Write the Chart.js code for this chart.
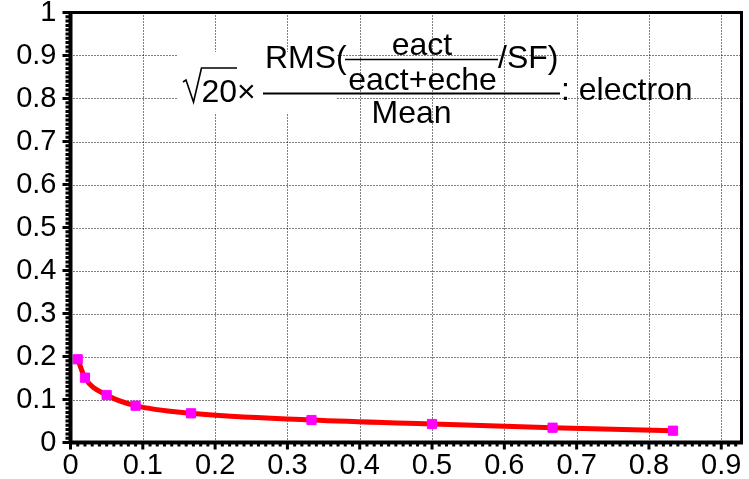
<!DOCTYPE html>
<html lang="en">
<head>
  <meta charset="UTF-8">
  <title>RMS / Mean : electron</title>
  <script src="https://cdn.jsdelivr.net/npm/chart.js"></script>
  <style>
    body { margin: 0; background: #fff; }
    canvas { display: block; }
  </style>
</head>
<body>
  <canvas id="resChart" width="749" height="479"></canvas>

  <script>
    // points
    const xValues = [0.01, 0.02, 0.05, 0.09, 0.1667, 0.3333, 0.5, 0.6667, 0.8333];
    const yValues = [0.1935, 0.1507, 0.1105, 0.0856, 0.0679, 0.0523, 0.043, 0.0344, 0.0274];

    // tick values and their labels
    const xTicks = [0, 0.1, 0.2, 0.3, 0.4, 0.5, 0.6, 0.7, 0.8, 0.9];
    const xTickLabels = ['0', '0.1', '0.2', '0.3', '0.4', '0.5', '0.6', '0.7', '0.8', '0.9'];
    const yTicks = [0, 0.1, 0.2, 0.3, 0.4, 0.5, 0.6, 0.7, 0.8, 0.9, 1];
    const yTickLabels = ['0', '0.1', '0.2', '0.3', '0.4', '0.5', '0.6', '0.7', '0.8', '0.9', '1'];

    const FONT = "'Liberation Sans', Arial, Helvetica, sans-serif";

    // dotted grid at the major ticks
    const gridPlugin = {
      id: 'dottedGrid',
      beforeDatasetsDraw(chart) {
        const ctx = chart.ctx;
        const a = chart.chartArea;
        const xs = chart.scales.x, ys = chart.scales.y;
        ctx.save();
        ctx.strokeStyle = '#000';
        ctx.lineWidth = 1;
        ctx.setLineDash([1, 2]);
        ctx.beginPath();
        xTicks.forEach(v => {
          if (v <= xs.min || v >= xs.max) return;
          const px = Math.round(xs.getPixelForValue(v)) + 0.5;
          ctx.moveTo(px, a.top); ctx.lineTo(px, a.bottom);
        });
        yTicks.forEach(v => {
          if (v <= ys.min || v >= ys.max) return;
          const py = Math.round(ys.getPixelForValue(v)) + 0.5;
          ctx.moveTo(a.left, py); ctx.lineTo(a.right, py);
        });
        ctx.stroke();
        ctx.restore();

        // white box behind the left part of the formula
        ctx.save();
        ctx.fillStyle = '#fff';
        ctx.fillRect(177, 52, 160, 62);
        ctx.restore();
      }
    };

    // frame, outward ticks (major + minor) and the formula label
    const framePlugin = {
      id: 'frame',
      afterDraw(chart) {
        const ctx = chart.ctx;
        const a = chart.chartArea;
        const xs = chart.scales.x, ys = chart.scales.y;
        ctx.save();

        // frame
        ctx.strokeStyle = '#000';
        ctx.lineWidth = 3;
        ctx.beginPath();
        ctx.moveTo(a.left, a.top); ctx.lineTo(a.right + 1.5, a.top);
        ctx.moveTo(a.right, a.top); ctx.lineTo(a.right, a.bottom);
        ctx.stroke();
        ctx.lineWidth = 4;
        ctx.beginPath();
        ctx.moveTo(a.left, a.top - 1.5); ctx.lineTo(a.left, a.bottom + 1.5);
        ctx.moveTo(a.left, a.bottom); ctx.lineTo(a.right + 1.5, a.bottom);
        ctx.stroke();

        // ticks
        ctx.lineWidth = 3;
        ctx.beginPath();
        for (let i = 0; i / 100 <= xs.max + 1e-9; i++) {
          const px = xs.getPixelForValue(i / 100);
          const len = i % 10 === 0 ? 7 : 4;
          ctx.moveTo(px, a.bottom); ctx.lineTo(px, a.bottom + len);
        }
        for (let i = 0; i <= 100; i++) {
          const py = ys.getPixelForValue(i / 100);
          const len = i % 10 === 0 ? 8 : 5;
          ctx.moveTo(a.left, py); ctx.lineTo(a.left - len, py);
        }
        ctx.stroke();

        // formula
        ctx.fillStyle = '#000';
        ctx.font = '32px ' + FONT;
        ctx.textBaseline = 'alphabetic';
        ctx.textAlign = 'left';

        // square root sign
        ctx.lineWidth = 1.6;
        ctx.beginPath();
        ctx.moveTo(183, 82);
        ctx.lineTo(186, 80);
        ctx.lineTo(193.5, 102);
        ctx.lineTo(201.5, 68);
        ctx.lineTo(237, 68);
        ctx.stroke();
        ctx.fillText('20\u00d7', 201.5, 102);

        ctx.fillText('RMS(', 265, 67.5);
        ctx.textAlign = 'center';
        ctx.fillText('eact', 422, 55);
        ctx.fillText('eact+eche', 422.5, 90);
        ctx.fillText('Mean', 411.5, 123);
        ctx.textAlign = 'left';
        ctx.fillText('/SF)', 498, 67.5);
        ctx.fillText(': electron', 561, 100);

        ctx.lineWidth = 1.6;
        ctx.beginPath();
        ctx.moveTo(345, 59.5); ctx.lineTo(498, 59.5);
        ctx.stroke();
        ctx.lineWidth = 2;
        ctx.beginPath();
        ctx.moveTo(263, 93.5); ctx.lineTo(560, 93.5);
        ctx.stroke();

        ctx.restore();
      }
    };

    const ctx = document.getElementById('resChart').getContext('2d');

    const resChart = new Chart(ctx, {
      type: 'line',
      data: {
        datasets: [{
          data: xValues.map((x, i) => ({ x: x, y: yValues[i] })),
          borderColor: '#ff0000',
          borderWidth: 5,
          cubicInterpolationMode: 'monotone',
          pointStyle: 'rect',
          pointRadius: 6.5,
          pointBackgroundColor: '#ff00ff',
          pointBorderColor: '#ff00ff',
          pointBorderWidth: 1,
          fill: false
        }]
      },
      options: {
        responsive: false,
        animation: false,
        devicePixelRatio: 1,
        layout: { padding: { top: 12.5, right: 3.5, left: 0, bottom: 0 } },
        plugins: {
          legend: { display: false },
          tooltip: { enabled: false }
        },
        scales: {
          x: {
            type: 'linear',
            min: 0,
            max: 0.928,
            afterBuildTicks: (scale) => { scale.ticks = xTicks.map(v => ({ value: v })); },
            afterFit: (scale) => {
              scale.height = 36.5;
              scale.paddingLeft = 0; scale.paddingRight = 0;
            },
            grid: { display: false, drawTicks: false },
            border: { display: false },
            ticks: {
              autoSkip: false,
              maxRotation: 0,
              padding: 6,
              color: '#000',
              font: { family: FONT, size: 29 },
              callback: (v, i) => xTickLabels[i]
            }
          },
          y: {
            type: 'linear',
            min: 0,
            max: 1,
            afterBuildTicks: (scale) => { scale.ticks = yTicks.map(v => ({ value: v })); },
            afterFit: (scale) => {
              scale.width = 70.5;
              scale.paddingTop = 0; scale.paddingBottom = 0;
            },
            grid: { display: false, drawTicks: false },
            border: { display: false },
            ticks: {
              padding: 14,
              color: '#000',
              font: { family: FONT, size: 29 },
              callback: (v, i) => yTickLabels[i]
            }
          }
        }
      },
      plugins: [gridPlugin, framePlugin]
    });
  </script>
</body>
</html>
